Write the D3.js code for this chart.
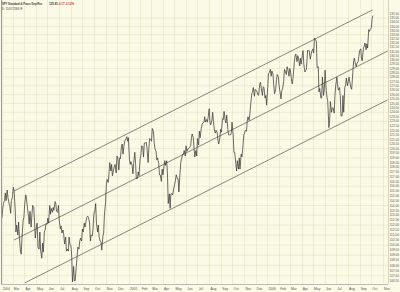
<!DOCTYPE html>
<html>
<head>
<meta charset="utf-8">
<script src="https://cdn.jsdelivr.net/npm/d3@7"></script>
<style>
body { margin: 0; background: #fbfae6; }
svg { display: block; font-family: "Liberation Sans", Arial, sans-serif; }
</style>
</head>
<body>
<div id="chart"></div>
<script>
// header texts
var symbolName = "SPY Standard & Poors Dep Rec";
var lastPrice = "135.81";
var change = "-0.17";
var changePct = "-0.12%";
var dateLine = "D: 11/07/2006 R:";

// SPY closes, three per week (Mon, Wed, Fri), starting week of Mon 2004-02-02
var firstMonday = "2004-02-02";
var closes = [
    // 2004
    112.7, 113.6, 114.2,  114.5, 115.3, 114.5,  115.6, 114.8, 114.4,  113.9, 113.2, 114.5,                        // feb
    114.9, 115.9, 115.6,  113.6, 111.3, 112.0,  111.0, 112.3, 110.9,  109.3, 109.1, 110.8,  112.5, 112.8, 114.1,  // mar
    115.1, 114.6, 113.9,  112.9, 112.1, 113.4,  111.8, 113.0, 114.0,  113.8, 112.3, 110.7,                        // apr
    111.9, 112.2, 109.8,  109.6, 111.3, 109.5,  108.7, 110.2, 109.3,  111.4, 111.5, 112.1,                        // may
    112.1, 112.7, 112.2,  114.0, 113.1, 113.7,  113.3, 113.8, 113.5,  114.4, 114.2, 113.4,  113.3, 114.0, 112.5,  // jun
    111.6, 111.9, 111.2,  111.5, 111.0, 110.1,  110.8, 109.4, 109.6,  109.4, 110.8, 110.1,                        // jul
    109.9, 108.8, 106.4,  107.9, 106.5, 106.5,  107.9, 108.8, 109.8,  109.6, 110.4, 110.7,  110.4, 111.6, 111.3,  // aug
    112.2, 111.8, 112.3,  112.8, 112.9, 112.8,  112.2, 110.4, 111.0,  110.9, 111.6, 113.1,                        // sep
    113.5, 114.2, 112.2,  111.3, 112.0, 110.8,  110.4, 110.3, 109.5,  110.9, 111.2, 113.0,                        // oct
    114.3, 116.1, 116.7,  116.4, 117.3, 118.5,  117.6, 118.3, 117.1,  117.7, 118.1, 118.3,  117.4, 119.2, 119.1,  // nov
    117.7, 119.0, 118.9,  120.3, 120.5, 119.4,  120.5, 120.9, 121.0,  121.3, 120.8, 121.2,                        // dec
    // 2005
    118.8, 118.3, 118.6,  118.2, 117.3, 118.4,  119.6, 118.4, 116.8,  116.8, 117.5, 117.1,                        // jan
    118.9, 119.3, 120.3,  120.2, 119.1, 120.6,  120.6, 120.7, 120.1,  118.5, 120.0, 121.1,                        // feb
    121.0, 120.8, 122.2,  121.9, 120.7, 120.0,  119.7, 118.8, 119.0,  118.4, 117.2, 117.2,  116.5, 117.8, 117.2,  // mar
    118.1, 118.7, 118.2,  118.7, 117.3, 114.2,  115.2, 113.7, 115.2,  115.2, 115.1, 115.7,                        // apr
    116.2, 116.6, 117.2,  116.8, 116.8, 115.4,  117.3, 118.5, 118.9,  119.4, 119.4, 119.8,  119.2, 120.3, 119.7,  // may
    120.0, 120.0, 120.1,  120.3, 121.1, 121.6,  121.2, 120.0, 119.1,  119.8, 119.2, 121.1,                        // jun
    120.4, 121.9, 121.2,  122.2, 122.6, 122.8,  122.9, 123.5, 122.9,  123.2, 122.9, 123.4,                        // jul
    124.4, 122.8, 122.6,  123.1, 124.0, 123.0,  121.9, 121.7, 122.0,  121.7, 120.9, 120.5,  121.2, 122.1, 121.8,  // aug
    123.3, 123.2, 124.1,  123.1, 122.8, 123.7,  122.1, 121.5, 121.5,  121.5, 121.7, 122.9,                        // sep
    121.5, 119.6, 119.6,  118.4, 117.6, 118.7,  117.8, 119.0, 117.8,  119.4, 119.1, 119.9,                        // oct
    121.5, 121.7, 122.0,  121.9, 123.0, 123.5,  123.1, 123.9, 124.8,  126.1, 126.3, 126.8,  125.8, 126.6, 126.5,  // nov
    126.3, 126.0, 125.9,  127.2, 127.4, 126.7,  125.9, 126.9, 126.8,  125.6, 125.9, 124.8,                        // dec
    // 2006
    126.8, 128.4, 128.5,  128.9, 128.1, 128.7,  128.3, 127.0, 126.1,  126.6, 127.7, 128.3,  128.0, 127.0, 126.4,  // jan
    125.5, 126.5, 126.6,  127.5, 128.9, 128.7,  128.3, 129.2, 128.9,  128.1, 129.0, 128.7,                        // feb
    127.5, 127.2, 128.1,  129.7, 130.5, 130.7,  129.8, 130.5, 130.2,  129.3, 130.2, 129.5,                        // mar
    130.5, 131.1, 129.5,  128.6, 128.8, 128.9,  131.1, 131.1, 131.1,  130.1, 130.6, 131.0,                        // apr
    131.3, 130.8, 132.6,  132.4, 132.2, 129.1,  129.2, 126.3, 126.7,  125.6, 125.6, 128.0,  125.9, 126.6, 128.8,  // may
    126.5, 125.7, 125.3,  122.3, 123.1, 125.2,  124.0, 124.5, 124.5,  123.9, 125.9, 127.0,                        // jun
    128.0, 127.1, 126.5,  126.8, 125.9, 123.6,  123.6, 125.9, 124.0,  126.8, 127.1, 127.9,                        // jul
    127.0, 127.5, 128.0,  127.2, 126.8, 126.6,  128.5, 129.8, 130.2,  129.5, 129.2, 129.6,  129.8, 130.4, 131.1,  // aug
    131.3, 130.1, 129.9,  131.4, 131.6, 132.0,  131.2, 131.9, 131.4,  133.6, 133.4, 133.6,                        // sep
    133.9, 135.0, 135.3                                                                                          // oct
];

// trend channel lines drawn on the chart: [date, price] endpoints
var upperChannel = [["2004-03-05", 115.5], ["2006-10-05", 136.0]];
var middleChannel = [["2004-03-05", 110.5], ["2006-11-14", 131.05]];
var lowerChannel = [["2004-04-02", 106.3], ["2006-11-14", 125.4]];

// price axis labels (every 0.50) and grid prices (every 1.00)
var priceLabels = d3.range(106.5, 135.51, 0.5);
var gridPrices = d3.range(107, 135.1, 1);

var parseDate = d3.timeParse("%Y-%m-%d");
var start = parseDate(firstMonday);

var priceData = closes.map(function (c, i) {
    return {date: d3.timeDay.offset(start, 7 * Math.floor(i / 3) + 2 * (i % 3)), close: c};
});

var width = 400, height = 292;
var plot = {left: 1, right: 388, top: 0, bottom: 284};

var x = d3.scaleTime()
    .domain([new Date(2004, 1, 1), new Date(2006, 10, 1)])
    .range([1.5, 382.8]);

var y = d3.scaleLog()
    .domain([106.5, 135.5])
    .range([280.9, 14.0]);

var svg = d3.select("#chart").append("svg")
    .attr("width", width)
    .attr("height", height);

svg.append("rect")
    .attr("width", width)
    .attr("height", height)
    .attr("fill", "#fbfae6");

svg.append("clipPath").attr("id", "plotClip")
    .append("rect")
    .attr("x", plot.left)
    .attr("y", plot.top)
    .attr("width", plot.right - plot.left)
    .attr("height", plot.bottom - plot.top);

var months = d3.timeMonth.range(new Date(2004, 1, 1), new Date(2006, 10, 2));

// grid
var grid = svg.append("g").attr("stroke", "#e8e6c6").attr("stroke-width", 0.7);
grid.selectAll("line.v").data(months).enter().append("line")
    .attr("class", "v")
    .attr("x1", function (d) { return Math.round(x(d)) + 0.5; })
    .attr("x2", function (d) { return Math.round(x(d)) + 0.5; })
    .attr("y1", plot.top)
    .attr("y2", plot.bottom);
grid.selectAll("line.h").data(gridPrices).enter().append("line")
    .attr("class", "h")
    .attr("x1", plot.left)
    .attr("x2", plot.right)
    .attr("y1", function (d) { return y(d); })
    .attr("y2", function (d) { return y(d); });

var inner = svg.append("g").attr("clip-path", "url(#plotClip)");

// channel lines
var chanLine = d3.line()
    .x(function (d) { return x(parseDate(d[0])); })
    .y(function (d) { return y(d[1]); });

inner.selectAll("path.channel")
    .data([upperChannel, middleChannel, lowerChannel])
    .enter().append("path")
    .attr("class", "channel")
    .attr("d", chanLine)
    .attr("fill", "none")
    .attr("stroke", "#555")
    .attr("stroke-width", 0.7);

// price line
var priceLine = d3.line()
    .x(function (d) { return x(d.date); })
    .y(function (d) { return y(d.close); });

inner.append("path")
    .datum(priceData)
    .attr("d", priceLine)
    .attr("fill", "none")
    .attr("stroke", "#3a3a3a")
    .attr("stroke-width", 0.75)
    .attr("stroke-linejoin", "round");

// frame
svg.append("line")
    .attr("x1", plot.left + 0.5).attr("x2", plot.left + 0.5)
    .attr("y1", plot.top).attr("y2", plot.bottom)
    .attr("stroke", "#999").attr("stroke-width", 1);
svg.append("line")
    .attr("x1", plot.left).attr("x2", plot.right)
    .attr("y1", plot.bottom + 0.5).attr("y2", plot.bottom + 0.5)
    .attr("stroke", "#bbb").attr("stroke-width", 1);
svg.append("line")
    .attr("x1", plot.right + 0.5).attr("x2", plot.right + 0.5)
    .attr("y1", plot.top).attr("y2", plot.bottom)
    .attr("stroke", "#d6d4b8").attr("stroke-width", 1);

// price labels on the right
svg.append("g").selectAll("text").data(priceLabels).enter().append("text")
    .attr("x", 389.5)
    .attr("y", function (d) { return y(d) + 1.2; })
    .attr("font-size", 3.3)
    .attr("fill", "#555")
    .attr("textLength", 9.5)
    .attr("lengthAdjust", "spacingAndGlyphs")
    .text(function (d) { return d.toFixed(2); });

// month labels
var fmtMonth = d3.timeFormat("%b"), fmtYear = d3.timeFormat("%Y");
svg.append("g").selectAll("text").data(months).enter().append("text")
    .attr("x", function (d) { return x(d) + 1.2; })
    .attr("y", 289.5)
    .attr("font-size", 3.3)
    .attr("fill", "#555")
    .text(function (d, i) { return (i === 0 || d.getMonth() === 0) ? fmtYear(d) : fmtMonth(d); });

// header
var header = svg.append("g").attr("font-weight", "bold");
header.append("text").attr("x", 2).attr("y", 5).attr("font-size", 2.7).attr("fill", "#333")
    .text(symbolName);
header.append("text").attr("x", 49).attr("y", 5).attr("font-size", 2.9).attr("fill", "#333")
    .text(lastPrice);
header.append("text").attr("x", 58).attr("y", 5).attr("font-size", 2.9).attr("fill", "#e03030")
    .text(change);
header.append("text").attr("x", 65).attr("y", 5).attr("font-size", 2.9).attr("fill", "#e03030")
    .text(changePct);
svg.append("text").attr("x", 2).attr("y", 10).attr("font-size", 2.8).attr("fill", "#444")
    .text(dateLine);
</script>
</body>
</html>
